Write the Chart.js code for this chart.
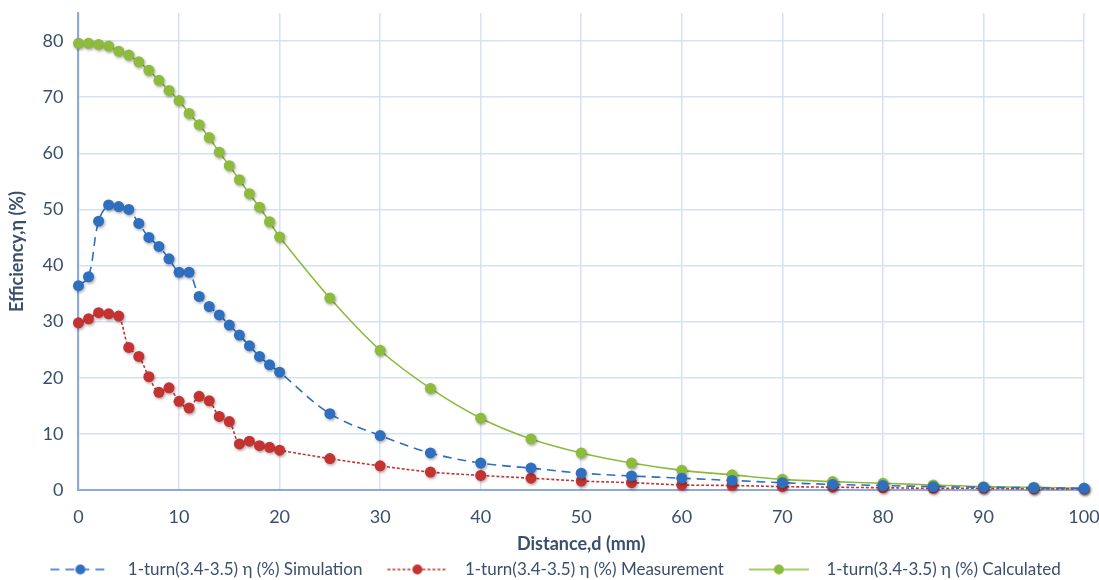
<!DOCTYPE html>
<html>
<head>
<meta charset="utf-8">
<script src="https://cdn.jsdelivr.net/npm/chart.js@4.4.1/dist/chart.umd.min.js"></script>
<style>
  html, body { margin: 0; padding: 0; background: #fff; }
  #wrap { width: 1099px; height: 580px; }
</style>
</head>
<body>
<div id="wrap"><canvas id="chart"></canvas></div>
<script>
var distance = [0, 1, 2, 3, 4, 5, 6, 7, 8, 9, 10, 11, 12, 13, 14, 15, 16, 17, 18, 19, 20,
  25, 30, 35, 40, 45, 50, 55, 60, 65, 70, 75, 80, 85, 90, 95, 100];

var simulation = [36.4, 38.0, 47.9, 50.8, 50.5, 50.0, 47.5, 45.0, 43.4, 41.2, 38.8, 38.8, 34.5, 32.7, 31.2, 29.4, 27.6, 25.7, 23.8, 22.3, 21.0,
  13.6, 9.7, 6.6, 4.8, 3.9, 3.0, 2.5, 2.1, 1.7, 1.3, 1.0, 0.8, 0.6, 0.5, 0.4, 0.3];

var measurement = [29.8, 30.5, 31.6, 31.4, 31.0, 25.4, 23.8, 20.2, 17.4, 18.2, 15.8, 14.6, 16.7, 15.9, 13.1, 12.2, 8.2, 8.7, 7.9, 7.6, 7.1,
  5.6, 4.3, 3.2, 2.6, 2.1, 1.6, 1.3, 0.9, 0.8, 0.6, 0.5, 0.4, 0.3, 0.3, 0.2, 0.2];

var calculated = [79.6, 79.6, 79.4, 79.1, 78.2, 77.5, 76.3, 74.8, 73.0, 71.2, 69.4, 67.1, 65.1, 62.8, 60.2, 57.8, 55.3, 52.8, 50.4, 47.8, 45.1,
  34.2, 24.9, 18.1, 12.8, 9.1, 6.6, 4.8, 3.5, 2.7, 1.9, 1.5, 1.2, 0.9, 0.6, 0.5, 0.3];

var yTicks = [0, 10, 20, 30, 40, 50, 60, 70, 80];

var seriesNames = [
  '1-turn(3.4-3.5) η (%) Simulation',
  '1-turn(3.4-3.5) η (%) Measurement',
  '1-turn(3.4-3.5) η (%) Calculated'
];

var blue = '#2F6FC0';
var red = '#C53232';
var green = '#8DBB3E';
var textCol = '#3A4F6E';
var gridCol = '#D6E2F3';
var axisCol = '#8EAAD8';
var font = 'Lato, "Open Sans", sans-serif';

function points(ys) {
  return ys.map(function(v, i) { return { x: distance[i], y: v }; });
}

// soft shadow under the markers only, like the original
var drawPoint = Chart.PointElement.prototype.draw;
Chart.PointElement.prototype.draw = function(ctx, area) {
  ctx.save();
  ctx.shadowColor = 'rgba(0,0,0,0.35)';
  ctx.shadowBlur = 3;
  ctx.shadowOffsetX = 1;
  ctx.shadowOffsetY = 1.5;
  drawPoint.call(this, ctx, area);
  ctx.restore();
};

// line + marker icon for the legend, with empty room either side
function legendIcon(color, dash, width) {
  var c = document.createElement('canvas');
  c.width = 90;
  c.height = 14;
  var g = c.getContext('2d');
  g.strokeStyle = color;
  g.lineWidth = width;
  g.setLineDash(dash);
  g.beginPath();
  g.moveTo(21, 7);
  g.lineTo(81, 7);
  g.stroke();
  g.setLineDash([]);
  g.fillStyle = color;
  g.beginPath();
  g.arc(51, 7, 5, 0, Math.PI * 2);
  g.fill();
  return c;
}

var icons = [
  legendIcon(blue, [9, 6], 1.6),
  legendIcon(red, [3, 2], 1.6),
  legendIcon(green, [], 1.6)
];

function makeSet(label, ys, color, dash) {
  return {
    label: label,
    data: points(ys),
    borderColor: color,
    backgroundColor: color,
    borderWidth: 1.6,
    borderDash: dash,
    pointRadius: 5.5,
    pointHoverRadius: 5.5,
    pointBorderWidth: 0,
    tension: 0.35,
    clip: false,
    fill: false
  };
}

function noEdgePadding(scale) {
  scale.paddingLeft = 0;
  scale.paddingRight = 0;
  scale.paddingTop = 0;
  scale.paddingBottom = 0;
}

new Chart(document.getElementById('chart'), {
  type: 'line',
  data: {
    datasets: [
      makeSet(seriesNames[0], simulation, blue, [9, 6]),
      makeSet(seriesNames[1], measurement, red, [3, 2]),
      makeSet(seriesNames[2], calculated, green, [])
    ]
  },
  options: {
    responsive: true,
    maintainAspectRatio: false,
    animation: false,
    layout: { padding: { left: 6, right: 15, top: 13, bottom: -8 } },
    plugins: {
      tooltip: { enabled: false },
      legend: {
        position: 'bottom',
        labels: {
          usePointStyle: true,
          pointStyleWidth: 90,
          color: textCol,
          font: { family: font, size: 17, lineHeight: 1 },
          padding: 4,
          generateLabels: function(chart) {
            return chart.data.datasets.map(function(ds, i) {
              return {
                text: ds.label,
                pointStyle: icons[i],
                fillStyle: ds.borderColor,
                strokeStyle: ds.borderColor,
                lineWidth: 0,
                hidden: false,
                datasetIndex: i,
                fontColor: textCol
              };
            });
          }
        }
      }
    },
    scales: {
      x: {
        type: 'linear',
        min: 0,
        max: 100,
        afterFit: function(scale) {
          noEdgePadding(scale);
          scale.height = 67;
        },
        ticks: { stepSize: 10, color: textCol, font: { family: font, size: 18 }, padding: 16 },
        grid: { color: gridCol, lineWidth: 1.5, drawTicks: false },
        border: { color: axisCol, width: 2 },
        title: {
          display: true,
          text: 'Distance,d (mm)',
          color: textCol,
          font: { family: font, size: 18, weight: 'bold' },
          padding: { top: 0, bottom: 2 }
        }
      },
      y: {
        min: 0,
        max: 85,
        afterBuildTicks: function(axis) {
          axis.ticks = yTicks.map(function(v) { return { value: v }; });
        },
        afterFit: noEdgePadding,
        ticks: { color: textCol, font: { family: font, size: 18 }, padding: 15 },
        grid: { color: gridCol, lineWidth: 1.5, drawTicks: false },
        border: { color: axisCol, width: 2 },
        title: {
          display: true,
          text: 'Efficiency,η (%)',
          color: textCol,
          font: { family: font, size: 18, weight: 'bold' },
          padding: { top: 0, bottom: 0 }
        }
      }
    }
  }
});
</script>
</body>
</html>
